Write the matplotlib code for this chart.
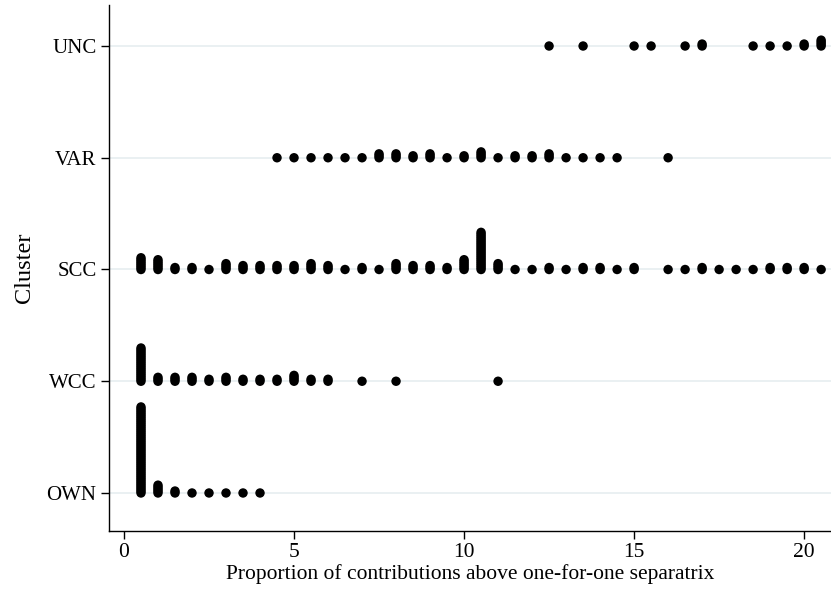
import numpy as np
import matplotlib
matplotlib.use("Agg")
import matplotlib.pyplot as plt

categories = ["OWN", "WCC", "SCC", "VAR", "UNC"]

own_x = [0.5, 1, 1.5, 2, 2.5, 3, 3.5, 4]
own_n = [45, 5, 2, 1, 1, 1, 1, 1]

wcc_x = [0.5, 1, 1.5, 2, 2.5, 3, 3.5, 4, 4.5, 5, 5.5, 6, 7, 8, 11]
wcc_n = [18, 3, 3, 3, 2, 3, 2, 2, 2, 4, 2, 2, 1, 1, 1]

scc_x = [0.5, 1, 1.5, 2, 2.5, 3, 3.5, 4, 4.5, 5, 5.5, 6, 6.5, 7, 7.5, 8, 8.5, 9, 9.5, 10,
         10.5, 11, 11.5, 12, 12.5, 13, 13.5, 14, 14.5, 15,
         16, 16.5, 17, 17.5, 18, 18.5, 19, 19.5, 20, 20.5]
scc_n = [7, 6, 2, 2, 1, 4, 3, 3, 3, 3, 4, 3, 1, 2, 1, 4, 3, 3, 2, 6,
         20, 4, 1, 1, 2, 1, 2, 2, 1, 2,
         1, 1, 2, 1, 1, 1, 2, 2, 2, 1]

var_x = [4.5, 5, 5.5, 6, 6.5, 7, 7.5, 8, 8.5, 9, 9.5, 10, 10.5, 11, 11.5, 12, 12.5,
         13, 13.5, 14, 14.5, 16]
var_n = [1, 1, 1, 1, 1, 1, 3, 3, 2, 3, 1, 2, 4, 1, 2, 2, 3, 1, 1, 1, 1, 1]

unc_x = [12.5, 13.5, 15, 15.5, 16.5, 17, 18.5, 19, 19.5, 20, 20.5]
unc_n = [1, 1, 1, 1, 1, 2, 1, 1, 1, 2, 4]

x_ticks = [0, 5, 10, 15, 20]

series = [(own_x, own_n), (wcc_x, wcc_n), (scc_x, scc_n), (var_x, var_n), (unc_x, unc_n)]

plt.rcParams['font.family'] = ['Liberation Serif', 'DejaVu Serif']

fig = plt.figure(figsize=(8.31, 5.95), dpi=100)
ax = fig.add_axes([0.1312, 0.1076, 0.8688, 0.884])

ax.set_xlim(-0.44, 20.79)
ax.set_ylim(-0.34, 4.367)

step = 0.0175  # vertical offset per stacked observation (data units)
for i, (xs, ns) in enumerate(series):
    px, py = [], []
    for x, n in zip(xs, ns):
        for k in range(n):
            px.append(x)
            py.append(i + k * step)
    ax.scatter(px, py, s=46, color='black', edgecolors='none', zorder=3)

for i in range(len(categories)):
    ax.axhline(i, color='#e6eef0', lw=1.2, zorder=1)

ax.set_yticks(range(len(categories)))
ax.set_yticklabels(categories, fontsize=15)
ax.set_xticks(x_ticks)
ax.set_xticklabels([str(t) for t in x_ticks], fontsize=15.5)
ax.tick_params(axis='both', direction='out', length=6, width=1, color='black', pad=3)

for s in ['top', 'right']:
    ax.spines[s].set_visible(False)
for s in ['left', 'bottom']:
    ax.spines[s].set_linewidth(1)
    ax.spines[s].set_color('black')

ax.set_xlabel("Proportion of contributions above one-for-one separatrix", fontsize=15.5, labelpad=1)
ax.set_ylabel("Cluster", fontsize=17.5, labelpad=8)

fig.savefig("out.png", dpi=100)
